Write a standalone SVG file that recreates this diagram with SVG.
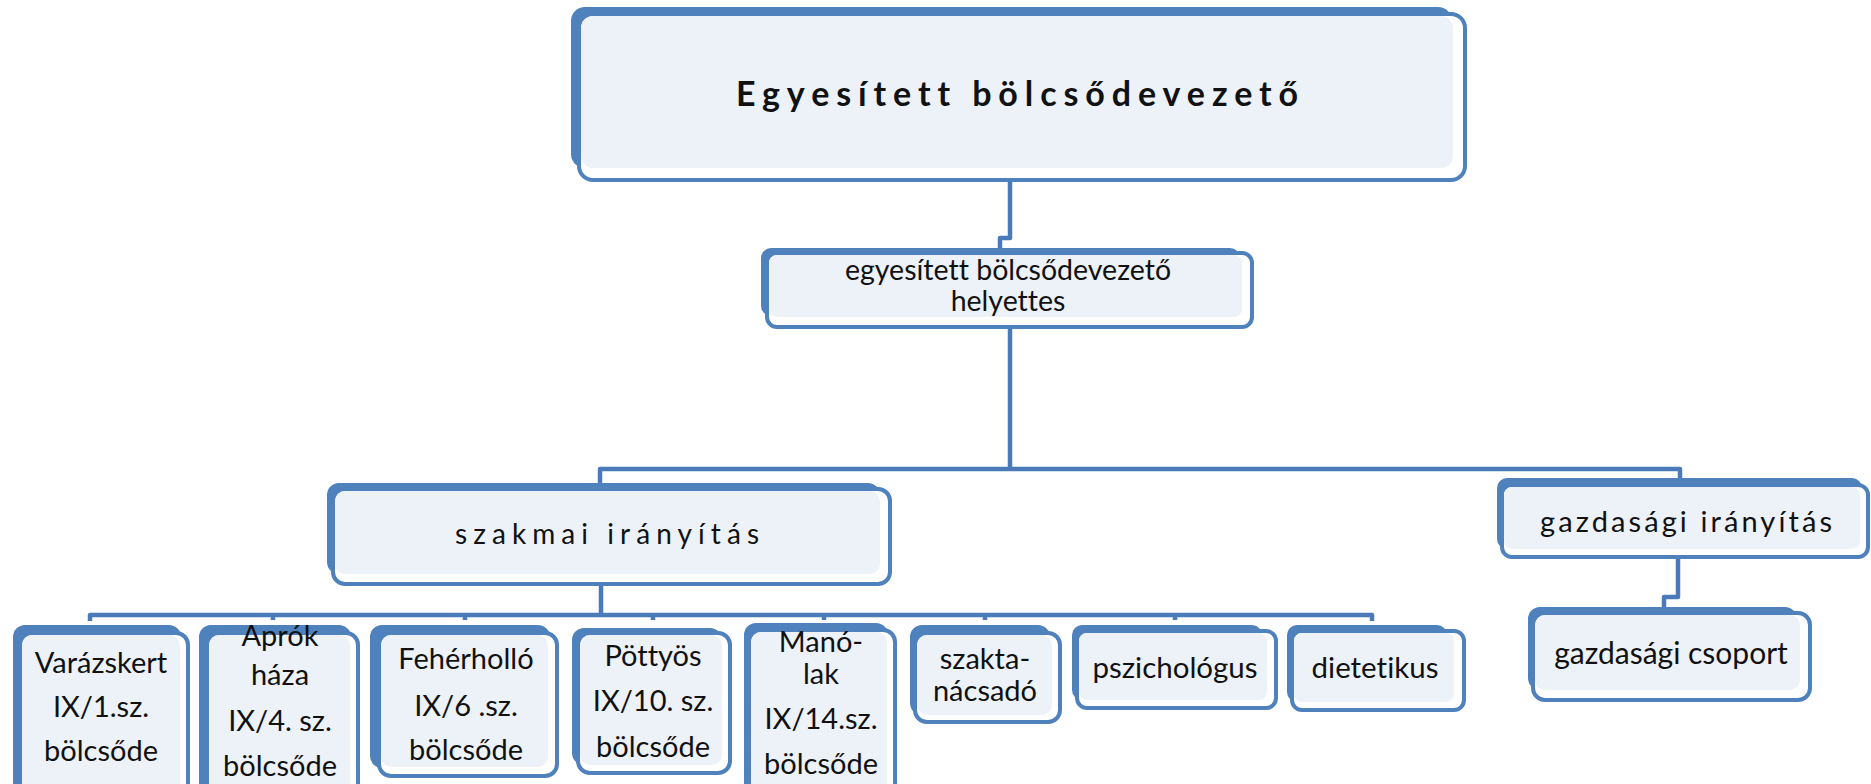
<svg xmlns="http://www.w3.org/2000/svg" width="1871" height="784" viewBox="0 0 1871 784">
<style>
.bk{fill:#4f81bd}
.fr{fill:#ffffff;stroke:#4f81bd;stroke-width:4}
.fl{fill:#edf2f9}
.t{font-family:Lato,"Noto Sans",sans-serif;fill:#111;text-anchor:middle;font-variant-ligatures:none}
.c{fill:none;stroke:#4a7bb8;stroke-width:4.5;stroke-linejoin:round}
</style>
<rect width="1871" height="784" fill="#ffffff"/>
<g id="connectors">
<path class="c" d="M1010,180 V238 H1000 V250"/>
<path class="c" d="M1010,327 V469"/>
<path class="c" d="M600,483 V469 H1680 V478"/>
<path class="c" d="M1678,557 V597 H1664 V607"/>
<path class="c" d="M601,584 V615"/>
<path class="c" d="M90,621 V615 H1372 V621"/>
<path class="c" d="M273,615 V620 M465,615 V620 M653,615 V620 M824,615 V620 M985,615 V620 M1175,615 V620"/>
</g>
<g id="n-top">
<rect class="bk" x="571" y="7" width="881" height="161" rx="14"/>
<rect class="fr" x="579" y="14" width="886" height="166" rx="14"/>
<rect class="fl" x="581" y="16" width="872" height="152" rx="12"/>
<text class="t" x="1017" y="106" font-size="34" font-weight="bold" textLength="562" lengthAdjust="spacing">Egyesített bölcsődevezető</text>
</g>
<g id="n-helyettes">
<rect class="bk" x="761" y="248" width="479" height="68" rx="10"/>
<rect class="fr" x="767" y="253" width="485" height="74" rx="10"/>
<rect class="fl" x="769" y="255" width="473" height="62" rx="8"/>
<text class="t" x="1008" y="280" font-size="28.5">egyesített bölcsődevezető</text>
<text class="t" x="1008" y="311" font-size="28.5">helyettes</text>
</g>
<g id="n-szakmai">
<rect class="bk" x="327" y="483" width="553" height="91" rx="12"/>
<rect class="fr" x="333" y="489" width="557" height="95" rx="12"/>
<rect class="fl" x="335" y="491" width="545" height="83" rx="10"/>
<text class="t" x="607" y="544" font-size="28" textLength="304" lengthAdjust="spacing">szakmai irányítás</text>
</g>
<g id="n-gazdasagi">
<rect class="bk" x="1497" y="478" width="365" height="71" rx="10"/>
<rect class="fr" x="1502" y="485" width="366" height="72" rx="10"/>
<rect class="fl" x="1504" y="487" width="356" height="62" rx="8"/>
<text class="t" x="1686" y="532" font-size="29" textLength="292" lengthAdjust="spacing">gazdasági irányítás</text>
</g>
<g id="n-csoport">
<rect class="bk" x="1528" y="607" width="269" height="83" rx="12"/>
<rect class="fr" x="1533" y="613" width="277" height="87" rx="12"/>
<rect class="fl" x="1535" y="615" width="265" height="75" rx="10"/>
<text class="t" x="1671" y="664" font-size="30">gazdasági csoport</text>
</g>
<g id="n-varazskert">
<rect class="bk" x="13" y="625" width="168" height="170" rx="12"/>
<rect class="fr" x="20" y="633" width="168" height="167" rx="12"/>
<rect class="fl" x="22" y="635" width="158" height="160" rx="10"/>
<text class="t" font-size="29"><tspan x="101" y="673">Varázskert</tspan><tspan x="101" y="717">IX/1.sz.</tspan><tspan x="101" y="761">bölcsőde</tspan></text>
</g>
<g id="n-aprok">
<rect class="bk" x="199" y="625" width="152" height="170" rx="12"/>
<rect class="fr" x="207" y="633" width="151" height="167" rx="12"/>
<rect class="fl" x="209" y="635" width="141" height="160" rx="10"/>
<text class="t" font-size="29"><tspan x="280" y="646">Aprók</tspan><tspan x="280" y="685">háza</tspan><tspan x="280" y="731">IX/4. sz.</tspan><tspan x="280" y="776">bölcsőde</tspan></text>
</g>
<g id="n-feherhollo">
<rect class="bk" x="370" y="625" width="180" height="143" rx="12"/>
<rect class="fr" x="379" y="633" width="178" height="143" rx="12"/>
<rect class="fl" x="381" y="635" width="167" height="132" rx="10"/>
<text class="t" font-size="29"><tspan x="466" y="669">Fehérholló</tspan><tspan x="466" y="716">IX/6 .sz.</tspan><tspan x="466" y="760">bölcsőde</tspan></text>
</g>
<g id="n-pottyos">
<rect class="bk" x="572" y="628" width="150" height="137" rx="12"/>
<rect class="fr" x="578" y="633" width="152" height="140" rx="12"/>
<rect class="fl" x="580" y="635" width="142" height="130" rx="10"/>
<text class="t" font-size="29"><tspan x="653" y="666">Pöttyös</tspan><tspan x="653" y="711">IX/10. sz.</tspan><tspan x="653" y="757">bölcsőde</tspan></text>
</g>
<g id="n-manolak">
<rect class="bk" x="744" y="623" width="144" height="172" rx="12"/>
<rect class="fr" x="749" y="630" width="146" height="170" rx="12"/>
<rect class="fl" x="751" y="632" width="136" height="163" rx="10"/>
<text class="t" font-size="29"><tspan x="821" y="652">Manó-</tspan><tspan x="821" y="684">lak</tspan><tspan x="821" y="729">IX/14.sz.</tspan><tspan x="821" y="774">bölcsőde</tspan></text>
</g>
<g id="n-szaktanacsado">
<rect class="bk" x="910" y="625" width="140" height="90" rx="12"/>
<rect class="fr" x="915" y="633" width="145" height="89" rx="12"/>
<rect class="fl" x="917" y="635" width="135" height="80" rx="10"/>
<text class="t" font-size="29"><tspan x="985" y="669">szakta-</tspan><tspan x="985" y="701">nácsadó</tspan></text>
</g>
<g id="n-pszichologus">
<rect class="bk" x="1072" y="625" width="190" height="75" rx="10"/>
<rect class="fr" x="1077" y="631" width="199" height="77" rx="10"/>
<rect class="fl" x="1079" y="633" width="188" height="67" rx="8"/>
<text class="t" x="1175" y="678" font-size="29.5">pszichológus</text>
</g>
<g id="n-dietetikus">
<rect class="bk" x="1287" y="625" width="160" height="77" rx="10"/>
<rect class="fr" x="1292" y="631" width="172" height="79" rx="10"/>
<rect class="fl" x="1294" y="633" width="160" height="69" rx="8"/>
<text class="t" x="1375" y="678" font-size="29.5">dietetikus</text>
</g>
</svg>
